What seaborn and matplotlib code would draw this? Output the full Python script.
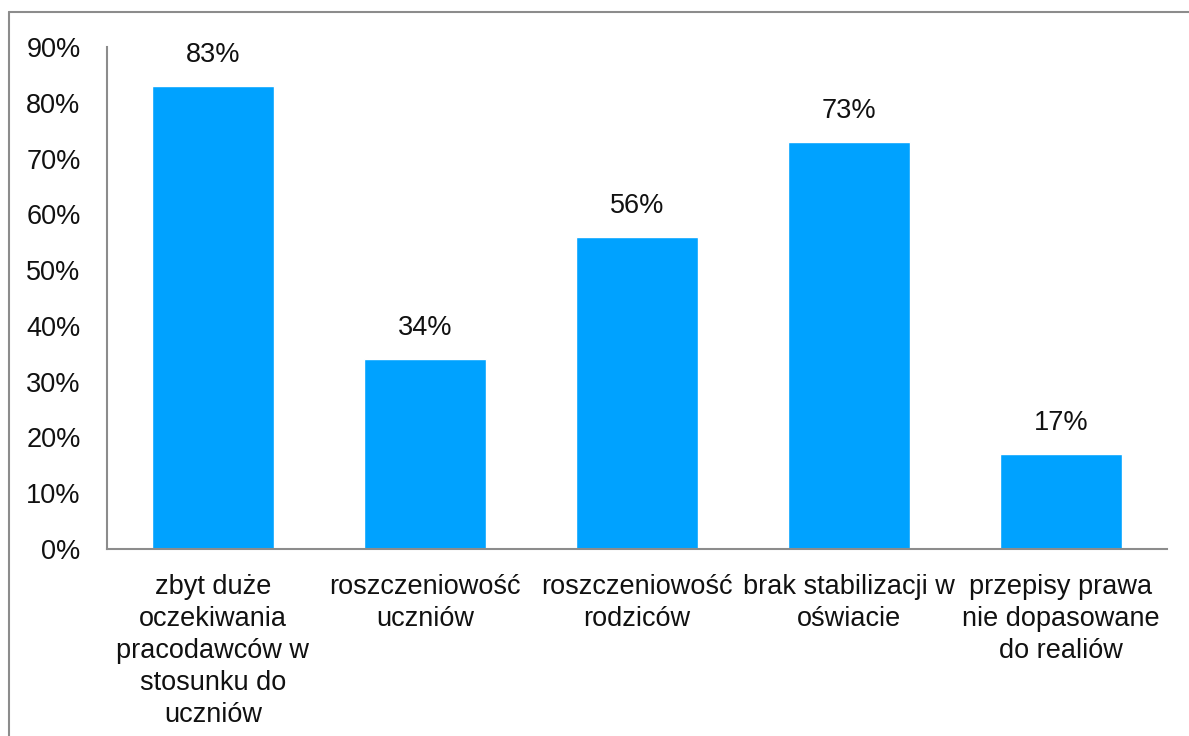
import seaborn as sns
import matplotlib.pyplot as plt
import pandas as pd
from matplotlib.lines import Line2D

categories = [
    "zbyt duże\noczekiwania\npracodawców w\nstosunku do\nuczniów",
    "roszczeniowość\nuczniów",
    "roszczeniowość\nrodziców",
    "brak stabilizacji w\noświacie",
    "przepisy prawa\nnie dopasowane\ndo realiów",
]
values = [0.83, 0.34, 0.56, 0.73, 0.17]
yticks = [0, 0.1, 0.2, 0.3, 0.4, 0.5, 0.6, 0.7, 0.8, 0.9]

sns.set_theme(style="white")
plt.rcParams['font.family'] = ['Liberation Sans', 'DejaVu Sans']

df = pd.DataFrame({"cat": categories, "val": values})

fig = plt.figure(figsize=(11.89, 7.36), dpi=100)
ax = fig.add_axes([107 / 1189, 1 - 549 / 736, 1060 / 1189, 502 / 736])

sns.barplot(data=df, x="cat", y="val", color="#00A2FF", saturation=1,
            width=0.575, ax=ax)

ax.set_ylim(0, 0.9)
ax.set_xlim(-0.5, len(categories) - 0.5)
ax.set_yticks(yticks)
ax.set_yticklabels([f"{round(t * 100)}%" for t in yticks])
ax.set_xlabel("")
ax.set_ylabel("")
ax.tick_params(axis="both", length=0, labelsize=19.5, colors="#111111")
ax.tick_params(axis="y", pad=19)
ax.tick_params(axis="x", pad=18)
for lab in ax.get_xticklabels():
    lab.set_linespacing(1.3)
    lab.set_va("top")

for s in ["top", "right"]:
    ax.spines[s].set_visible(False)
for s in ["left", "bottom"]:
    ax.spines[s].set_color("#8c8c8c")
    ax.spines[s].set_linewidth(1.5)

for i, v in enumerate(values):
    ax.annotate(f"{round(v * 100)}%", (i, v), xytext=(0, 13),
                textcoords="offset points", ha="center", va="bottom",
                fontsize=19.5, color="#111111")

# outer frame (only left and top edges visible in the crop)
fig.add_artist(Line2D([8.5 / 1189, 8.5 / 1189], [0, 1 - 11.5 / 736],
                      transform=fig.transFigure, color="#8c8c8c", lw=1.5))
fig.add_artist(Line2D([8.5 / 1189, 1], [1 - 11.5 / 736, 1 - 11.5 / 736],
                      transform=fig.transFigure, color="#8c8c8c", lw=1.5))

fig.savefig("out.png", dpi=100)
